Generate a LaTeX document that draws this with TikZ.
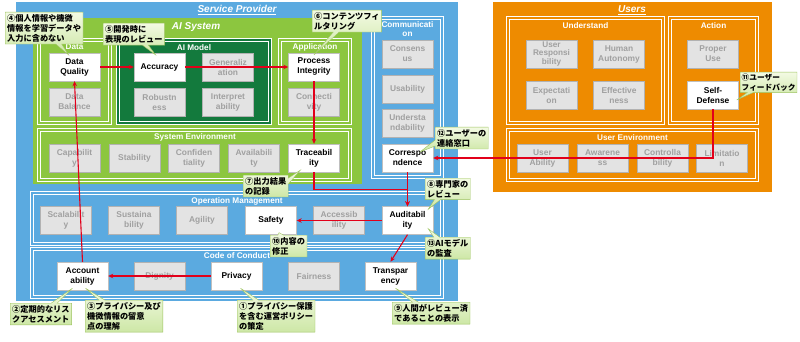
\documentclass[tikz,border=0pt]{standalone}
\usepackage{fontspec}
\setmainfont{Liberation Sans}
\newfontfamily\jpfont{Noto Sans CJK JP}
\usetikzlibrary{arrows.meta,shapes.callouts,calc}

\definecolor{spblue}{HTML}{5BAAE0}
\definecolor{aigreen}{HTML}{8CC63F}
\definecolor{mdlgreen}{HTML}{137A3D}
\definecolor{usrorange}{HTML}{EE8B00}
\definecolor{boxgrey}{HTML}{E3E3E3}
\definecolor{txtgrey}{HTML}{A0A0A0}
\definecolor{notetop}{HTML}{F3FAE3}
\definecolor{notebot}{HTML}{CDE7A6}
\definecolor{noteline}{HTML}{9CC35E}
\definecolor{arrred}{HTML}{E2001A}

\begin{document}
\begin{tikzpicture}[x=1pt, y=-1pt,
    frame/.style={draw=white, line width=0.9pt, double=#1, double distance=1.5pt, fill=#1},
    ttl/.style={text=white, font=\bfseries\fontsize{8.2}{9}\selectfont, align=center, inner sep=0pt},
    big/.style={text=white, font=\bfseries\itshape\fontsize{10}{12}\selectfont, inner sep=0pt},
    box/.style={draw=black!25, fill=white, minimum width=51pt, minimum height=28pt, inner sep=1pt, align=center, font=\bfseries\fontsize{8.4}{10}\selectfont},
    grey/.style={box, fill=boxgrey, draw=black!30, text=txtgrey},
    note/.style={rectangle callout, draw=noteline, top color=notetop, bottom color=notebot, anchor=north west, inner sep=2pt, align=left, font=\jpfont\bfseries\fontsize{8.2}{10}\selectfont, callout pointer width=6pt},
    arr/.style={draw=arrred, line width=1.1pt, -{Stealth[length=5pt,width=4.5pt]}}
]
\useasboundingbox (0,0) rectangle (800,342);

% outer areas
\fill[spblue] (16,2) rectangle (458,301);
\fill[aigreen] (33,18) rectangle (362,184);
\fill[usrorange] (493,2) rectangle (772,192);
\node[big] (sptitle) at (237,10) {\underline{Service Provider}};
\node[big] (aititle) at (196,27) {AI System};
\node[big] (ustitle) at (632,10) {\underline{Users}};

% frames
\path[frame=aigreen] (39,40) rectangle (110,123);
\path[frame=mdlgreen] (118,40) rectangle (270,123);
\path[frame=aigreen] (280,40) rectangle (350,123);
\path[frame=aigreen] (39,130) rectangle (350,180);
\path[frame=spblue] (373,18) rectangle (442,177);
\path[frame=spblue] (32,193) rectangle (442,244);
\path[frame=spblue] (32,249) rectangle (442,297);
\path[frame=usrorange] (508,18) rectangle (663,123);
\path[frame=usrorange] (670,18) rectangle (757,123);
\path[frame=usrorange] (508,130) rectangle (757,180);

\node[ttl] (tdata) at (74.5,47) {Data};
\node[ttl] (tmodel) at (194,48) {AI Model};
\node[ttl] (tappl) at (315,47) {Application};
\node[ttl] (tsysenv) at (195,137) {System Environment};
\node[ttl] (tcomm) at (407.5,29) {Communicati\\on};
\node[ttl] (topm) at (237,201) {Operation Management};
\node[ttl] (tcode) at (237,256) {Code of Conduct};
\node[ttl] (tund) at (585.5,26) {Understand};
\node[ttl] (tact) at (713.5,26) {Action};
\node[ttl] (tusrenv) at (632.5,138) {User Environment};

% AI system
\node[box] (dq) at (74.5,67) {Data\\Quality};
\node[grey] (dbal) at (74.5,102) {Data\\Balance};
\node[box] (acc) at (159.5,67) {Accuracy};
\node[grey] (gen) at (228,67) {Generaliz\\ation};
\node[grey] (rob) at (159.5,102) {Robustn\\ess};
\node[grey] (intp) at (228,102) {Interpret\\ability};
\node[box] (pint) at (314,67) {Process\\Integrity};
\node[grey] (conn) at (314,102) {Connecti\\vity};
\node[grey] (cap) at (74.5,158) {Capabilit\\y};
\node[grey] (stab) at (134.5,158) {Stability};
\node[grey] (conf) at (194,158) {Confiden\\tiality};
\node[grey] (avail) at (254,158) {Availabili\\ty};
\node[box] (trace) at (314,158) {Traceabil\\ity};

% communication
\node[grey] (cons) at (407.5,54) {Consens\\us};
\node[grey] (usab) at (407.5,89) {Usability};
\node[grey] (und) at (407.5,123) {Understa\\ndability};
\node[box] (corr) at (407.5,158) {Correspo\\ndence};

% operation management
\node[grey] (scal) at (66,220.5) {Scalabilit\\y};
\node[grey] (sust) at (134,220.5) {Sustaina\\bility};
\node[grey] (agil) at (202,220.5) {Agility};
\node[box] (safe) at (271,220.5) {Safety};
\node[grey] (accs) at (339,220.5) {Accessib\\ility};
\node[box] (audit) at (407.5,220.5) {Auditabil\\ity};

% code of conduct
\node[box] (accnt) at (82.5,276) {Account\\ability};
\node[grey] (dign) at (159.5,276) {Dignity};
\node[box] (priv) at (236.5,276) {Privacy};
\node[grey] (fair) at (314,276) {Fairness};
\node[box] (transp) at (390.5,276) {Transpar\\ency};

% users
\node[grey, font=\bfseries\fontsize{8.2}{8.6}\selectfont] (uresp) at (551.5,54) {User\\Responsi\\bility};
\node[grey] (hauto) at (619,54) {Human\\Autonomy};
\node[grey] (expc) at (551.5,95) {Expectati\\on};
\node[grey] (effc) at (619,95) {Effective\\ness};
\node[grey] (puse) at (713,54) {Proper\\Use};
\node[box] (sdef) at (713,95) {Self-\\Defense};
\node[grey] (uabl) at (542.5,158) {User\\Ability};
\node[grey] (awar) at (602.5,158) {Awarene\\ss};
\node[grey] (ctrl) at (662.5,158) {Controlla\\bility};
\node[grey] (limit) at (722,158) {Limitatio\\n};

% flow
\draw[arr] (dq.east) -- (acc.west);
\draw[arr] (acc.east) -- (pint.west);
\draw[arr] (pint.south) -- (trace.north);
\draw[arr] (trace.south) -- ++(0,17) -| (audit.north);
\draw[arr] (corr.south) -- (audit.north);
\draw[arr] (sdef.south) |- (corr.east);
\draw[arr] (audit.west) -- (safe.east);
\draw[arr] (audit.south) -- (transp.north);
\draw[arr] (priv.west) -- (accnt.east);
\draw[arr] (accnt.north) -- (dq.south);

% notes
\node[note, callout absolute pointer={($(dq.north)+(-6,2)$)}] (n4) at (5,12) {④個人情報や機微\\情報を学習データや\\入力に含めない};
\node[note, callout absolute pointer={($(acc.north)+(-4,2)$)}] (n5) at (103,23) {⑤開発時に\\表現のレビュー};
\node[note, callout absolute pointer={($(pint.north)+(0,2)$)}] (n6) at (312,10) {⑥コンテンツフィ\\ルタリング};
\node[note, callout absolute pointer={($(trace.south west)+(12,-2)$)}] (n7) at (243,175) {⑦出力結果\\の記録};
\node[note, callout absolute pointer={($(audit.north east)+(-5,3)$)}] (n8) at (425,178) {⑧専門家の\\レビュー};
\node[note, callout absolute pointer={($(transp.south)+(5,-2)$)}] (n9) at (392,302) {⑨人間がレビュー済\\であることの表示};
\node[note, callout absolute pointer={($(safe.south)+(8,-2)$)}] (n10) at (270,235) {⑩内容の\\修正};
\node[note, inner sep=1.5pt, font=\jpfont\bfseries\fontsize{7.7}{10}\selectfont, callout absolute pointer={($(sdef.east)+(-2,5)$)}] (n11) at (740,72) {⑪ユーザー\\フィードバック};
\node[note, callout absolute pointer={($(corr.north east)+(-13,8)$)}] (n12) at (435,127) {⑫ユーザーの\\連絡窓口};
\node[note, callout absolute pointer={($(audit.south east)+(-5,-6)$)}] (n13) at (425,237) {⑬AIモデル\\の監査};
\node[note, callout absolute pointer={($(priv.south)+(4,-2)$)}] (n1) at (237,300) {①プライバシー保護\\を含む運営ポリシー\\の策定};
\node[note, callout absolute pointer={($(accnt.south)+(-10,-2)$)}] (n2) at (10,303) {②定期的なリス\\クアセスメント};
\node[note, callout absolute pointer={($(accnt.south)+(3,-2)$)}] (n3) at (85,300) {③プライバシー及び\\機微情報の留意\\点の理解};
\end{tikzpicture}
\end{document}
